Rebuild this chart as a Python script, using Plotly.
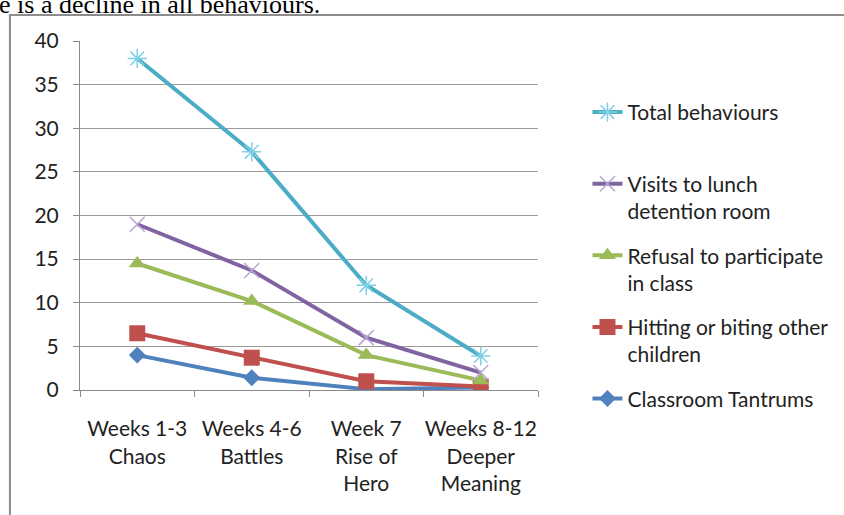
import plotly.graph_objects as go

categories = ["Weeks 1-3<br>Chaos", "Weeks 4-6<br>Battles", "Week 7<br>Rise of<br>Hero", "Weeks 8-12<br>Deeper<br>Meaning"]

tantrums = [4.0, 1.4, 0.1, 0.3]
hitting = [6.5, 3.7, 1.0, 0.4]
refusal = [14.5, 10.2, 4.0, 1.1]
visits = [19.0, 13.7, 6.0, 2.0]
total = [38.0, 27.3, 12.0, 3.9]

series_names = [
    "Classroom Tantrums",
    "Hitting or biting other<br>children",
    "Refusal to participate<br>in class",
    "Visits to lunch<br>detention room",
    "Total behaviours<br> ",
]
series_values = [tantrums, hitting, refusal, visits, total]
line_colors = ["#4f81bd", "#c0504d", "#9bbb59", "#8064a2", "#4bacc6"]
marker_colors = ["#4f81bd", "#c0504d", "#9bbb59", "#b7a5d3", "#7fd0e6"]
symbols = ["diamond", "square", "triangle-up", "x-thin-open", "asterisk-open"]
sizes = [13, 16, 15, 15, 16]

fig = go.Figure()
n = len(series_names)
for i, (name, vals) in enumerate(zip(series_names, series_values)):
    open_sym = symbols[i].endswith("open")
    fig.add_trace(go.Scatter(
        x=categories, y=vals, name=name, mode="lines+markers",
        line=dict(color=line_colors[i], width=4),
        marker=dict(symbol=symbols[i], size=sizes[i], color=marker_colors[i],
                    line=dict(color=marker_colors[i], width=1.5 if open_sym else 0)),
        legendgroup=str(n - i), legendrank=n - i,
    ))

FONT = "Lato, 'Open Sans', sans-serif"
FS = 21
fig.update_layout(
    width=844, height=515,
    margin=dict(l=80, r=306, t=41, b=125, autoexpand=False),
    paper_bgcolor="white", plot_bgcolor="white",
    font=dict(family=FONT, size=FS, color="#222222"),
    showlegend=True,
    legend=dict(
        x=1.108, y=0.854, xanchor="left", yanchor="top",
        traceorder="grouped", valign="top", tracegroupgap=14,
        font=dict(family=FONT, size=FS, color="#222222"),
        bgcolor="rgba(0,0,0,0)",
    ),
    xaxis=dict(
        type="category", showgrid=False, showline=True, linecolor="#8a8a8a", linewidth=1,
        ticks="outside", ticklen=6, tickcolor="#8a8a8a", tickson="boundaries",
        tickfont=dict(family=FONT, size=FS, color="#222222"),
        tickangle=0, automargin=False,
        ticklabelstandoff=20,
        range=[-0.5, 3.5],
    ),
    yaxis=dict(
        range=[0, 40], dtick=5, showgrid=True, gridcolor="#9a9a9a", gridwidth=1,
        showline=True, linecolor="#8a8a8a", linewidth=1, ticks="outside", ticklen=6,
        tickcolor="#8a8a8a", zeroline=False, automargin=False,
        tickfont=dict(family=FONT, size=FS, color="#222222"),
        ticklabelstandoff=10,
    ),
    shapes=[dict(type="rect", xref="paper", yref="paper",
                 x0=-0.153, x1=2.0, y0=-1.0, y1=1.0745,
                 line=dict(color="#8c8c8c", width=2), fillcolor="rgba(0,0,0,0)", layer="below")],
    annotations=[dict(text="e is a decline in all behaviours.", xref="paper", yref="paper",
                      x=-0.181, y=1.106, xanchor="left", yanchor="middle", showarrow=False,
                      font=dict(family="'Liberation Serif', 'Times New Roman', serif", size=26, color="black"))],
)

fig.write_html("out.html", post_script="document.body.style.margin='0px';",
               config={"displayModeBar": False})
